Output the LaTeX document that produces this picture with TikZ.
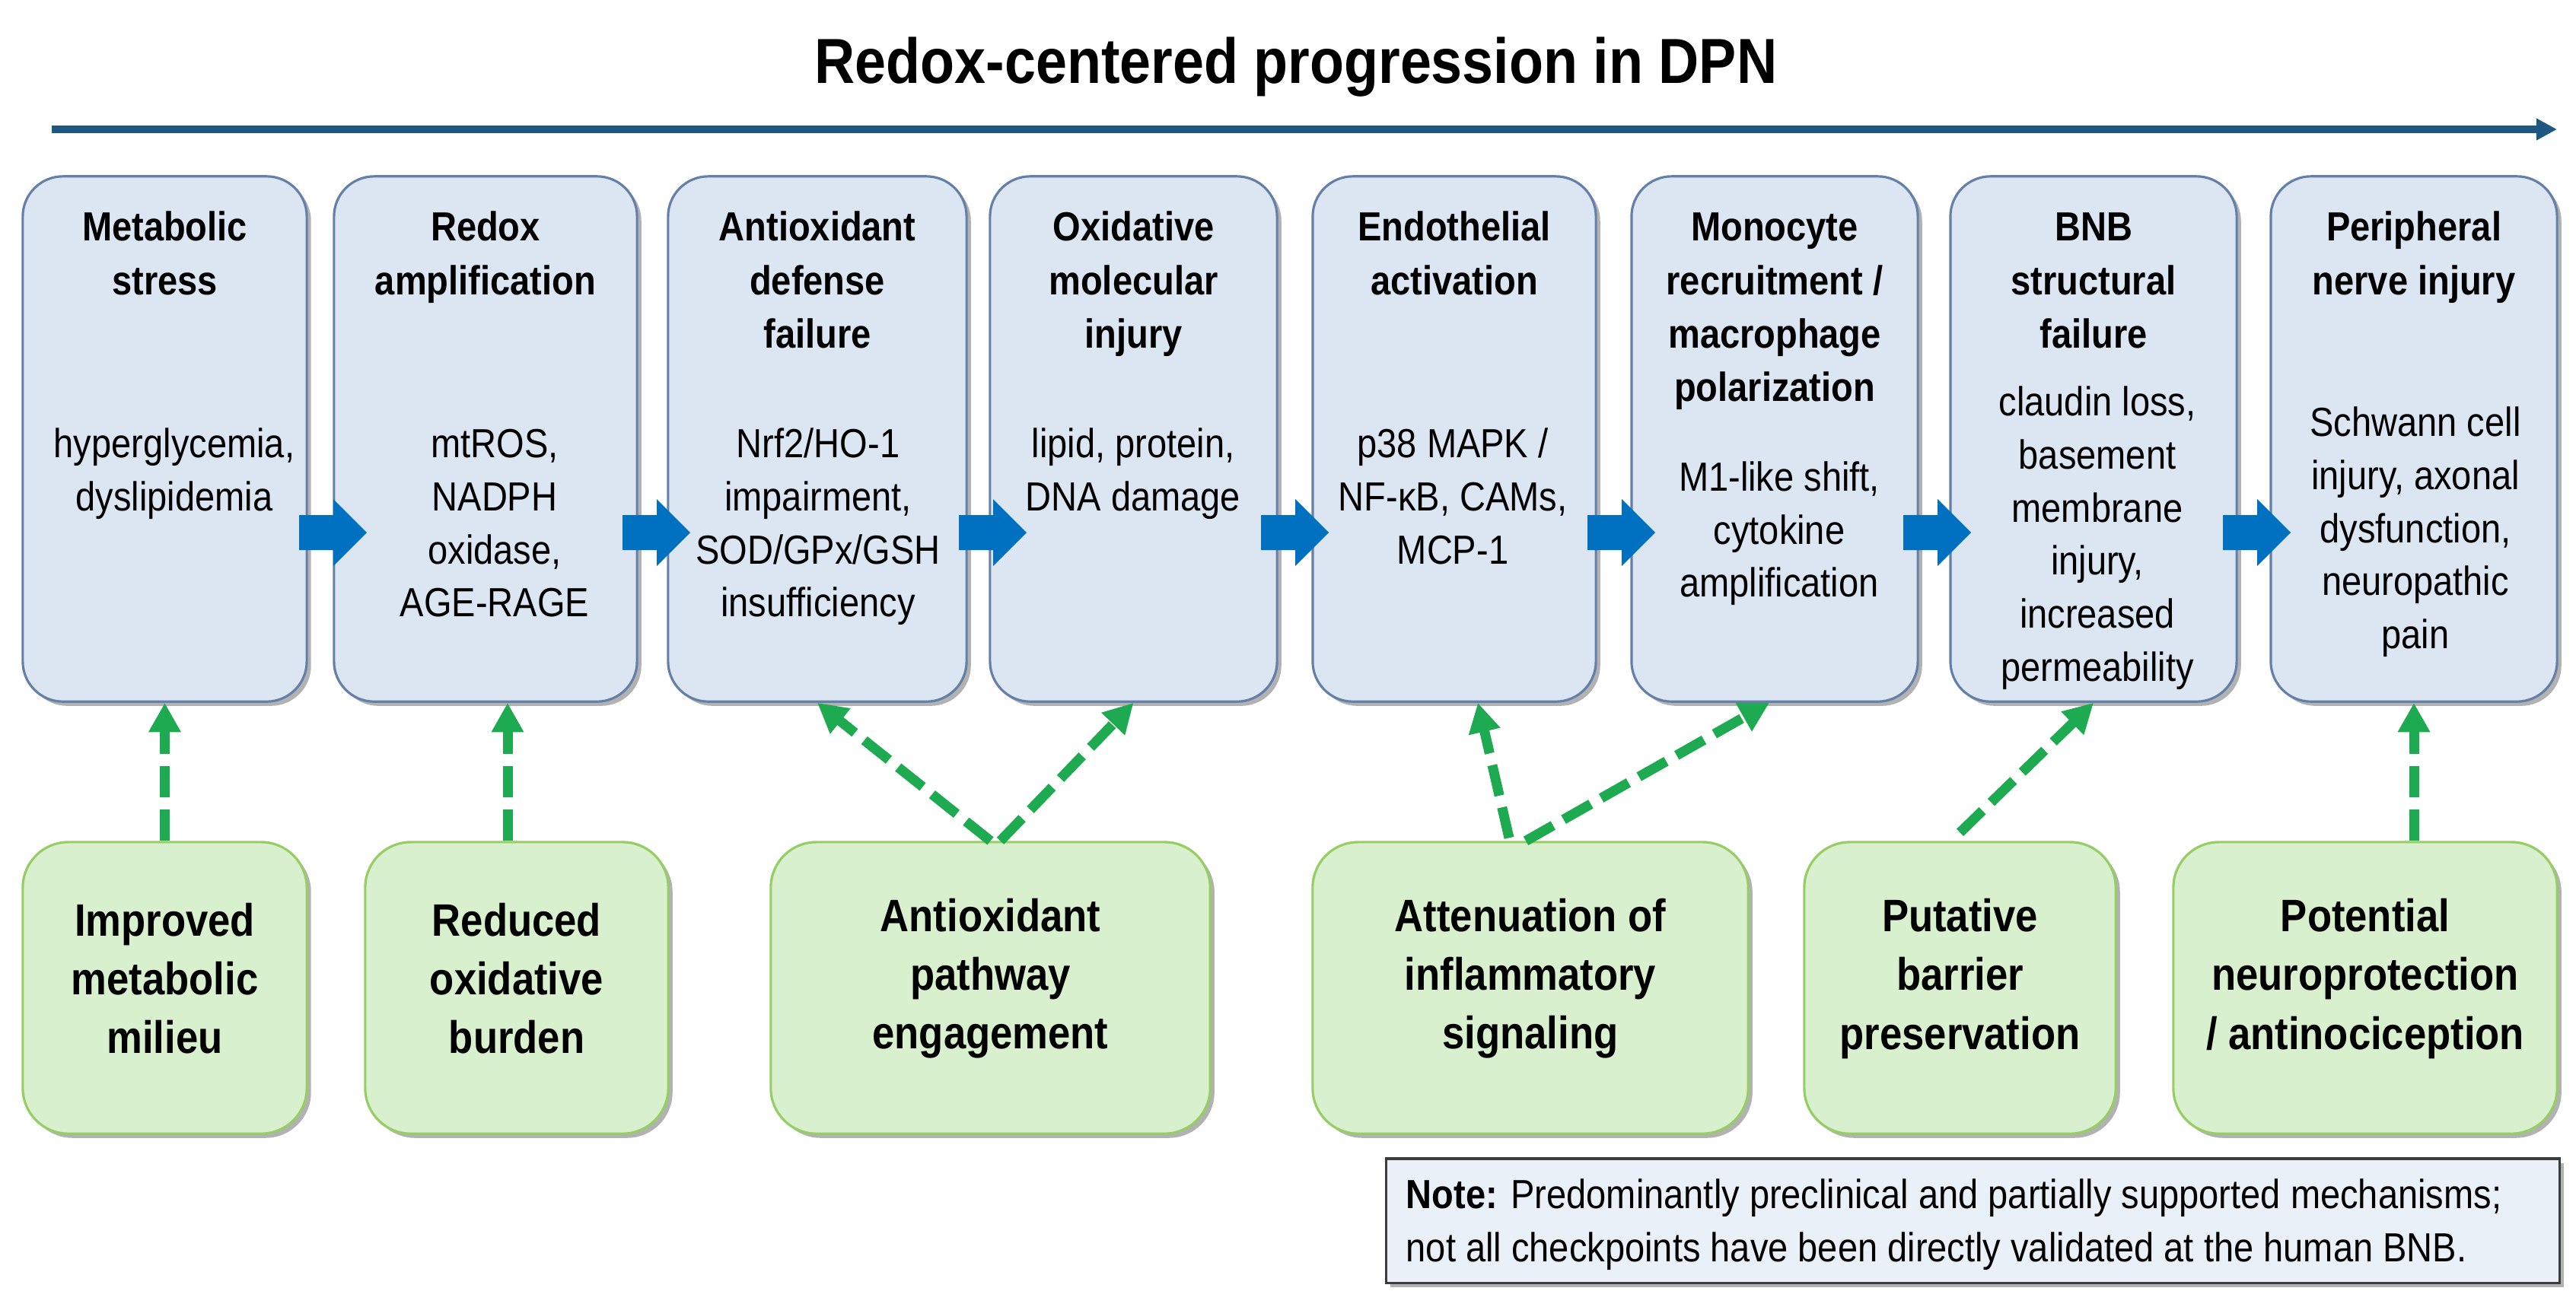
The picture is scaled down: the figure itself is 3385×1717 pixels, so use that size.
\documentclass[tikz,border=0pt]{standalone}
\usepackage{fontspec}
\setmainfont{Liberation Sans}[FakeStretch=0.88]
\usetikzlibrary{arrows.meta,shadows,calc}
\definecolor{bfill}{RGB}{220,230,242}
\definecolor{bline}{RGB}{100,128,168}
\definecolor{gfill}{RGB}{216,240,206}
\definecolor{gline}{RGB}{150,205,100}
\definecolor{garr}{RGB}{30,170,80}
\definecolor{barr}{RGB}{0,112,192}
\definecolor{tline}{RGB}{30,88,128}
\definecolor{nfill}{RGB}{234,240,248}
\definecolor{nline}{RGB}{60,60,60}
\begin{document}
\begin{tikzpicture}[x=0.01cm,y=-0.01cm,
 shadowed/.style={drop shadow={shadow xshift=1.6pt,shadow yshift=-1.6pt,opacity=0.3,fill=black}},
 bbox/.style={draw=bline,fill=bfill,line width=0.9pt,rounded corners=15pt,minimum height=6.90cm,shadowed,inner sep=0pt},
 gbox/.style={draw=gline,fill=gfill,line width=0.9pt,rounded corners=17pt,minimum height=3.83cm,shadowed,inner sep=0pt},
 gtext/.style={align=center,font=\bfseries\fontsize{17pt}{21.9pt}\selectfont,inner sep=0pt},
 btitle/.style={anchor=base,align=center,font=\bfseries\fontsize{15.2pt}{20pt}\selectfont,inner sep=0pt},
 bbody/.style={anchor=base,align=center,font=\fontsize{15.2pt}{19.8pt}\selectfont,inner sep=0pt},
 garrow/.style={draw=garr,line width=3.7pt,dash pattern=on 11.7pt off 4.5pt,-{Triangle[length=11pt,width=11.4pt]}},
 barrowpic/.pic={\fill[barr] (0,-23) -- (45,-23) -- (45,-44) -- (89,0) -- (45,44) -- (45,23) -- (0,23) -- cycle;},
]
\useasboundingbox[fill=white] (0,0) rectangle (3385,1717);

% title
\node[anchor=base,font=\bfseries\fontsize{23.8pt}{28pt}\selectfont,inner sep=0pt] (title) at (1703,109) {Redox-centered progression in DPN};
\coordinate (ts) at (68,170);
\coordinate (te) at (3360,170);
\draw[tline,line width=2.6pt,-{Triangle[length=7.7pt,width=7.7pt]}] (ts) -- (te);

% blue boxes
\node[bbox,minimum width=3.73cm] (b1) at (216.5,577) {};
\node[bbox,minimum width=3.98cm] (b2) at (638,577) {};
\node[bbox,minimum width=3.92cm] (b3) at (1074,577) {};
\node[bbox,minimum width=3.77cm] (b4) at (1489.5,577) {};
\node[bbox,minimum width=3.72cm] (b5) at (1911,577) {};
\node[bbox,minimum width=3.76cm] (b6) at (2332,577) {};
\node[bbox,minimum width=3.76cm] (b7) at (2751,577) {};
\node[bbox,minimum width=3.76cm] (b8) at (3172,577) {};

% block arrows
\pic at (393,700) {barrowpic};
\pic at (818,700) {barrowpic};
\pic at (1260,700) {barrowpic};
\pic at (1657,700) {barrowpic};
\pic at (2086,700) {barrowpic};
\pic at (2501,700) {barrowpic};
\pic at (2921,700) {barrowpic};

% titles (anchor = baseline of last line)
\node[btitle] (t1) at (216.5,387.3) {Metabolic\\stress};
\node[btitle] (t2) at (638,387.3) {Redox\\amplification};
\node[btitle] (t3) at (1074,457.6) {Antioxidant\\defense\\failure};
\node[btitle] (t4) at (1489.5,457.6) {Oxidative\\molecular\\injury};
\node[btitle] (t5) at (1911,387.3) {Endothelial\\activation};
\node[btitle] (t6) at (2332,527.9) {Monocyte\\recruitment /\\macrophage\\polarization};
\node[btitle] (t7) at (2751,457.6) {BNB\\structural\\failure};
\node[btitle] (t8) at (3172,387.3) {Peripheral\\nerve injury};

% bodies (anchor = baseline of last line)
\node[bbody] (d1) at (229,671.6) {hyperglycemia,\\dyslipidemia};
\node[bbody] (d2) at (650,810.8) {mtROS,\\NADPH\\oxidase,\\AGE-RAGE};
\node[bbody] (d3) at (1075,810.8) {Nrf2/HO-1\\impairment,\\SOD/GPx/GSH\\insufficiency};
\node[bbody] (d4) at (1489,671.6) {lipid, protein,\\DNA damage};
\node[bbody] (d5) at (1909,741.2) {p38 MAPK /\\NF-κB, CAMs,\\MCP-1};
\node[bbody] (d6) at (2338,784.7) {M1-like shift,\\cytokine\\amplification};
\node[bbody] (d7) at (2756,895) {claudin loss,\\basement\\membrane\\injury,\\increased\\permeability};
\node[bbody] (d8) at (3174,852.4) {Schwann cell\\injury, axonal\\dysfunction,\\neuropathic\\pain};

% green boxes
\node[gbox,minimum width=3.73cm] (g1) at (216.5,1298.5) {};
\node[gbox,minimum width=3.98cm] (g2) at (679,1298.5) {};
\node[gbox,minimum width=5.77cm] (g3) at (1301.5,1298.5) {};
\node[gbox,minimum width=5.72cm] (g4) at (2011,1298.5) {};
\node[gbox,minimum width=4.09cm] (g5) at (2575.5,1298.5) {};
\node[gbox,minimum width=5.04cm] (g6) at (3108,1298.5) {};
\node[gtext] (gt1) at ($(g1.center)+(0,-12)$) {Improved\\metabolic\\milieu};
\node[gtext] (gt2) at ($(g2.center)+(0,-12)$) {Reduced\\oxidative\\burden};
\node[gtext] (gt3) at ($(g3.center)+(0,-12)$) {Antioxidant\\pathway\\engagement};
\node[gtext] (gt4) at ($(g4.center)+(0,-12)$) {Attenuation of\\inflammatory\\signaling};
\node[gtext] (gt5) at ($(g5.center)+(0,-12)$) {Putative\\barrier\\preservation};
\node[gtext] (gt6) at ($(g6.center)+(0,-12)$) {Potential\\neuroprotection\\/ antinociception};

% green dashed arrows
\draw[garrow] (g1.north) -- (b1.south);
\draw[garrow] ($(g2.north)+(-12,0)$) -- ($(b2.south)+(29,0)$);
\draw[garrow] (g3.north) -- (b3.south);
\draw[garrow] ($(g3.north)+(13,0)$) -- (b4.south);
\draw[garrow] ($(g4.north)+(-28,-4)$) -- ($(b5.south)+(31,0)$);
\draw[garrow] ($(g4.north)+(-6,0)$) -- ($(b6.south)+(-7,0)$);
\draw[garrow] ($(g5.north)+(0,-11)$) -- (b7.south);
\draw[garrow] ($(g6.north)+(64,0)$) -- (b8.south);

% note
\node[draw=nline,fill=nfill,line width=0.9pt,minimum width=15.41cm,minimum height=1.63cm,shadowed,inner sep=0pt] (note) at (2592.5,1604.5) {};
\node[anchor=base west,align=left,font=\fontsize{15.2pt}{19.9pt}\selectfont,inner sep=0pt] (notetext) at (1847,1658) {\textbf{Note:} Predominantly preclinical and partially supported mechanisms;\\not all checkpoints have been directly validated at the human BNB.};
\end{tikzpicture}
\end{document}
